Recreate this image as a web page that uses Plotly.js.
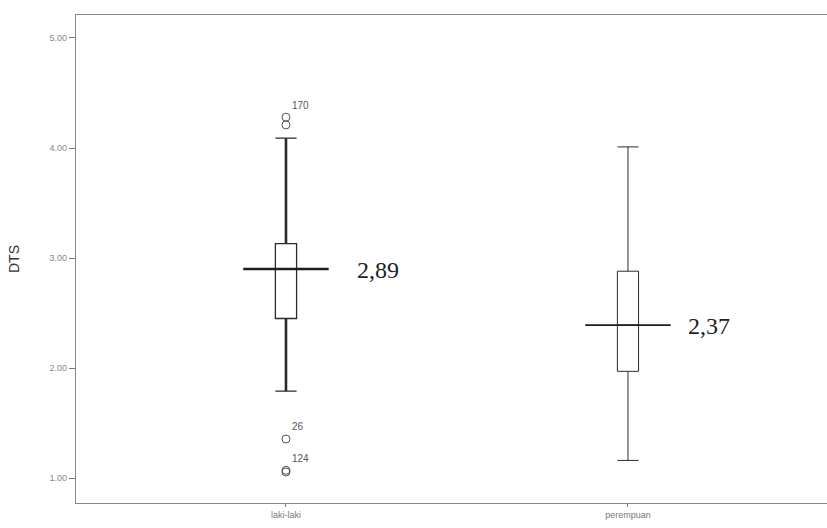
<!DOCTYPE html>
<html>
<head>
<meta charset="utf-8">
<script src="https://cdn.plot.ly/plotly-3.0.1.min.js"></script>
<style>html,body{margin:0;padding:0;background:#fff;}#chart{width:827px;height:528px;}</style>
</head>
<body>
<div id="chart"></div>
<script>
// ---- data ----
const categories = ['laki-laki', 'perempuan'];
const q1 = [2.45, 1.97];
const median = [2.90, 2.39];
const q3 = [3.13, 2.88];
const lowerFence = [1.79, 1.16];
const upperFence = [4.09, 4.01];
const medianLabels = ['2,89', '2,37'];

const outlierGroup = [0, 0, 0, 0, 0];
const outlierValues = [4.28, 4.21, 1.355, 1.07, 1.055];
const outlierLabels = ['170', '', '26', '124', ''];

const yTickVals = [1, 2, 3, 4, 5];
const yTickText = ['1.00', '2.00', '3.00', '4.00', '5.00'];

// ---- traces ----
const xs = categories.map((c, i) => i);
const traces = [];
const boxLineW = [1.3, 1];
const whiskerW = [2.6, 1];
const medianW = [2.4, 1.8];

categories.forEach((c, i) => {
  traces.push({
    type: 'box', x: [i], q1: [q1[i]], median: [median[i]], q3: [q3[i]],
    lowerfence: [lowerFence[i]], upperfence: [upperFence[i]],
    width: 0.062, whiskerwidth: 1, fillcolor: 'rgba(255,255,255,0)',
    line: {color: '#2b2b2b', width: boxLineW[i]}, boxpoints: false,
    hoverinfo: 'skip', showlegend: false
  });
  if (whiskerW[i] > boxLineW[i]) {
    traces.push({
      type: 'scatter', mode: 'lines', x: [i, i, null, i, i],
      y: [q3[i], upperFence[i], null, lowerFence[i], q1[i]],
      line: {color: '#2b2b2b', width: whiskerW[i]}, hoverinfo: 'skip', showlegend: false
    });
  }
  traces.push({
    type: 'scatter', mode: 'lines', x: [i - 0.125, i + 0.125], y: [median[i], median[i]],
    line: {color: '#1e1e1e', width: medianW[i]}, hoverinfo: 'skip', showlegend: false
  });
});

traces.push({
  type: 'scatter', mode: 'markers+text', x: outlierGroup, y: outlierValues,
  text: outlierLabels, textposition: 'top right',
  textfont: {family: 'Liberation Sans, Arial', size: 10, color: '#555'},
  marker: {symbol: 'circle-open', size: 8, color: '#555', line: {width: 1}},
  cliponaxis: false, hoverinfo: 'skip', showlegend: false
});

const labelShift = [69, 58];
const annotations = categories.map((c, i) => ({
  x: i, y: median[i], xref: 'x', yref: 'y', text: medianLabels[i],
  showarrow: false, xanchor: 'left', xshift: labelShift[i], yshift: -1,
  font: {family: 'Liberation Serif, Times New Roman, serif', size: 24, color: '#222'}
}));

const layout = {
  width: 827, height: 528,
  margin: {l: 76, r: 0, t: 15, b: 25},
  paper_bgcolor: '#fff', plot_bgcolor: '#fff',
  showlegend: false,
  xaxis: {
    range: [-0.614, 1.582], tickvals: xs, ticktext: categories,
    showgrid: false, zeroline: false, showline: true, mirror: true,
    linecolor: '#888', linewidth: 1.2, ticks: 'outside', ticklen: 3, tickcolor: '#777',
    tickfont: {family: 'Liberation Sans, Arial', size: 9, color: '#777'}
  },
  yaxis: {
    range: [0.773, 5.209], tickvals: yTickVals, ticktext: yTickText,
    showgrid: false, zeroline: false, showline: true,
    linecolor: '#888', linewidth: 1.2, ticks: 'outside', ticklen: 6, tickcolor: '#777',
    tickfont: {family: 'Liberation Sans, Arial', size: 9, color: '#888'},
    title: {text: 'DTS', standoff: 26, font: {family: 'Liberation Sans, Arial', size: 14, color: '#333'}}
  },
  annotations: annotations
};

Plotly.newPlot('chart', traces, layout, {displayModeBar: false, staticPlot: true});
</script>
</body>
</html>
